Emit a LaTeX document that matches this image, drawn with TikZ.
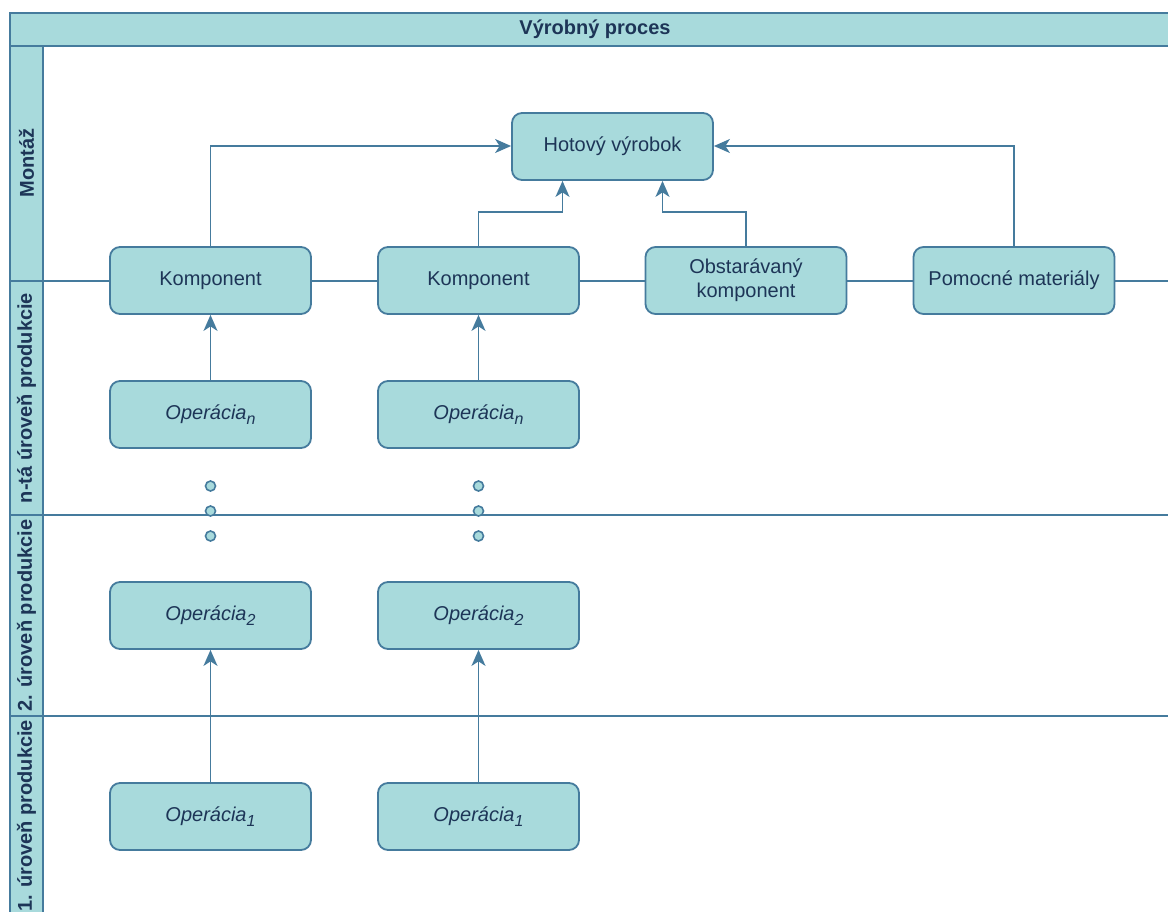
\documentclass[tikz,border=0pt]{standalone}
\usepackage{fontspec}
\setmainfont{Liberation Sans}
\usepackage{xcolor}
\usetikzlibrary{arrows.meta, positioning}

\definecolor{laneFill}{HTML}{A8DADC}
\definecolor{laneLine}{HTML}{457B9D}
\definecolor{laneText}{HTML}{1D3557}

\newcommand{\opsub}[1]{\raisebox{-5pt}{\fontsize{16}{18}\selectfont #1}}

\tikzset{
  box/.style={draw=laneLine, fill=laneFill, line width=1.8pt, rounded corners=10pt,
    minimum width=201pt, minimum height=67pt, align=center, text=laneText,
    font=\fontsize{20}{24}\selectfont},
  lanelabel/.style={rotate=90, text=laneText, font=\fontsize{20}{24}\selectfont\bfseries},
  flow/.style={draw=laneLine, line width=1.8pt, -{Stealth[length=16pt,width=14pt,inset=4.5pt]}},
  dotmark/.style={circle, draw=laneLine, fill=laneFill, line width=1.6pt, inner sep=0pt, minimum size=10pt}
}

\begin{document}
\begin{tikzpicture}[x=1pt, y=-1pt]
    \useasboundingbox (0,0) rectangle (1168,911);

    % 1. Bazen a pruhy
    \draw[laneLine, line width=1.8pt, fill=laneFill] (10,13) rectangle (1180,46);
    \node[text=laneText, font=\fontsize{20}{24}\selectfont\bfseries] (pool) at (595,29.5) {Výrobný proces};
    \draw[laneLine, line width=1.8pt, fill=laneFill] (10,46) rectangle (43,930);
    \draw[laneLine, line width=1.8pt] (43,46) -- (1180,46);
    \foreach \y in {281,515,716}
        \draw[laneLine, line width=1.8pt] (10,\y) -- (1180,\y);

    \node[lanelabel] (montaz) at (26.5,163) {Montáž};
    \node[lanelabel] (lanen) at (26.5,398) {n-tá úroveň produkcie};
    \node[lanelabel] (lane2) at (26.5,615.5) {2. úroveň produkcie};
    \node[lanelabel] (lane1) at (26.5,816) {1. úroveň produkcie};

    % 2. Montáž
    \node[box] (vyrobok) at (612.5,146.5) {Hotový výrobok};
    \node[box] (komp1) at (210.5,280.5) {Komponent};
    \node[box] (komp2) at (478.5,280.5) {Komponent};
    \node[box] (obstar) at (746,280.5) {Obstarávaný\\komponent};
    \node[box] (pomocne) at (1014,280.5) {Pomocné materiály};

    % 3. Operácie
    \node[box] (opn1) at (210.5,414.5) {\itshape Operácia\opsub{n}};
    \node[box] (opn2) at (478.5,414.5) {\itshape Operácia\opsub{n}};
    \node[box] (op21) at (210.5,615.5) {\itshape Operácia\opsub{2}};
    \node[box] (op22) at (478.5,615.5) {\itshape Operácia\opsub{2}};
    \node[box] (op11) at (210.5,816.5) {\itshape Operácia\opsub{1}};
    \node[box] (op12) at (478.5,816.5) {\itshape Operácia\opsub{1}};

    % 4. Bodky medzi úrovňami
    \foreach \y [count=\i] in {486,511,536} {
        \node[dotmark] (dotl\i) at (210.5,\y) {};
        \node[dotmark] (dotr\i) at (478.5,\y) {};
    }

    % 5. Spojnice
    \draw[flow] (komp1.north) |- ([yshift=0.5pt]vyrobok.west);
    \draw[flow] (pomocne.north) |- ([yshift=0.5pt]vyrobok.east);
    \draw[flow] (komp2.north) -- ++(0,-34) -| ([xshift=-50pt]vyrobok.south);
    \draw[flow] (obstar.north) -- ++(0,-34) -| ([xshift=50pt]vyrobok.south);
    \draw[flow] (opn1) -- (komp1);
    \draw[flow] (opn2) -- (komp2);
    \draw[flow] (op11) -- (op21);
    \draw[flow] (op12) -- (op22);

\end{tikzpicture}
\end{document}
